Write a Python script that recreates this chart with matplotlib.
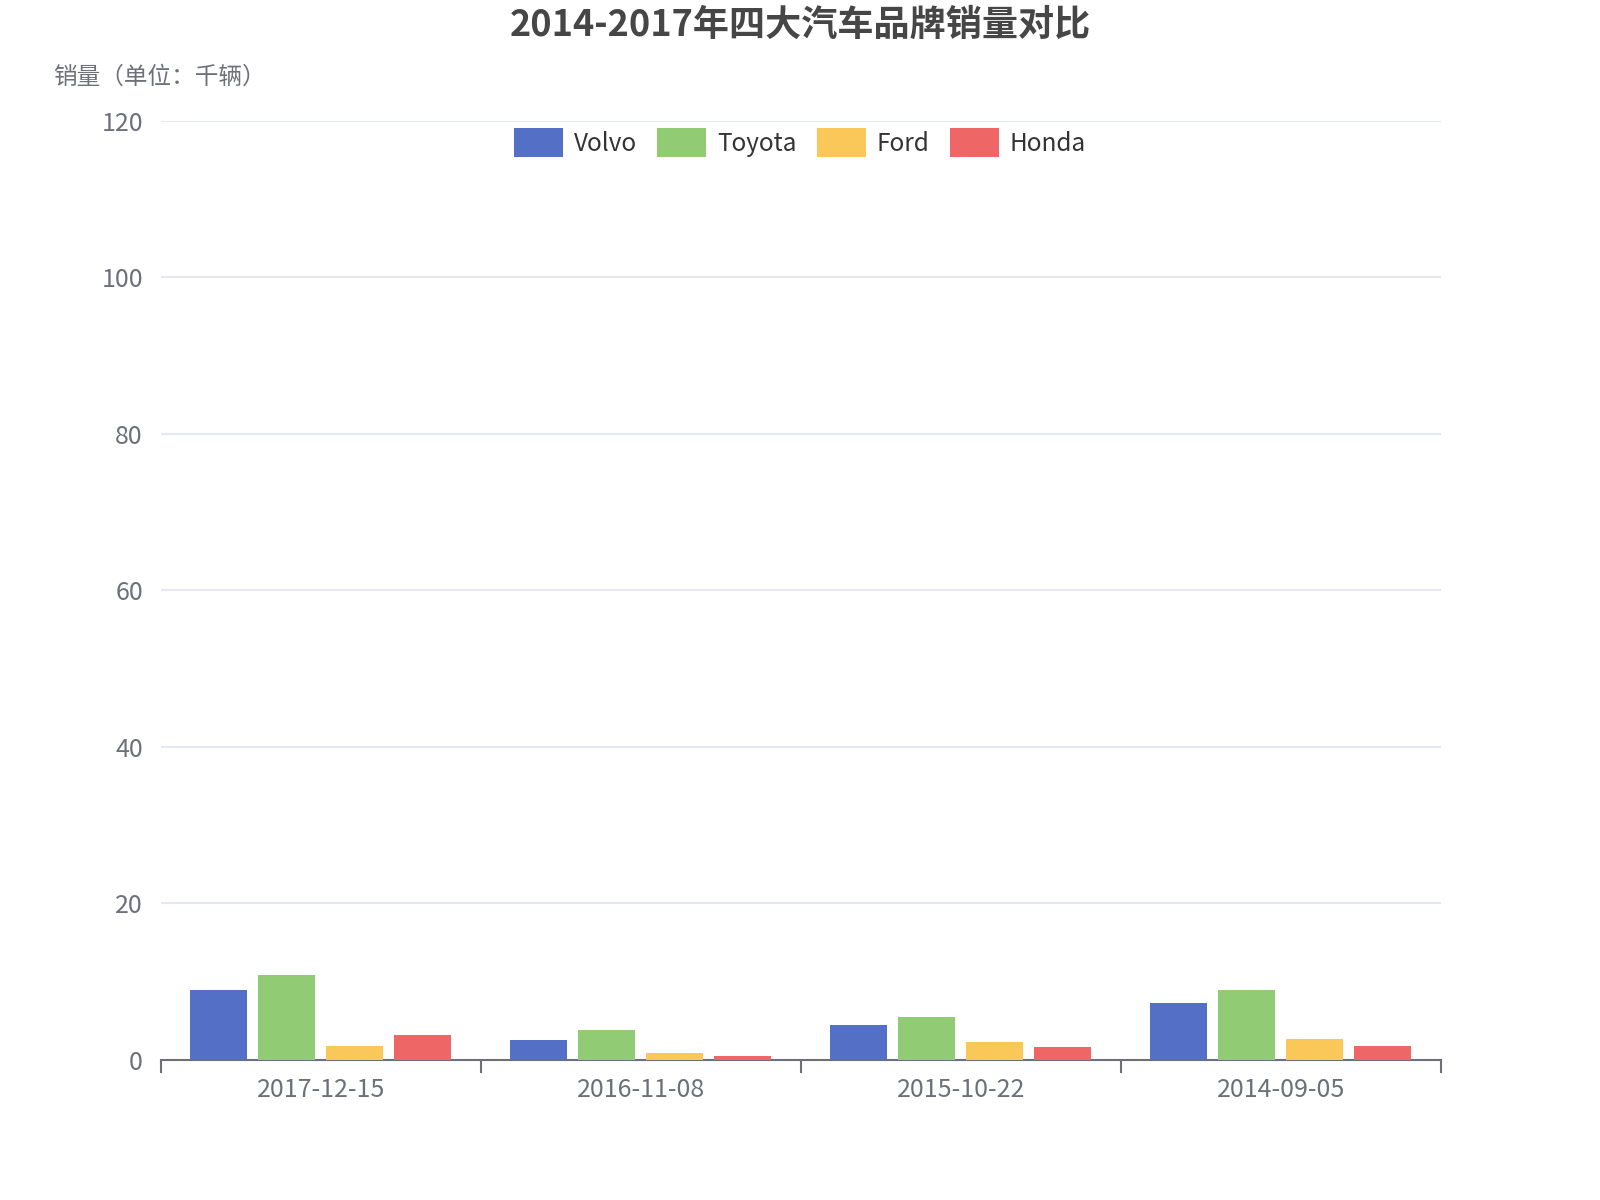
import matplotlib
matplotlib.use('Agg')
import matplotlib.pyplot as plt
from matplotlib.legend_handler import HandlerPatch
from matplotlib.patches import FancyBboxPatch
import numpy as np

plt.rcParams['font.family'] = ['Noto Sans CJK SC', 'DejaVu Sans']

# Data
dates = ['2017-12-15', '2016-11-08', '2015-10-22', '2014-09-05']
brands = ['Volvo', 'Toyota', 'Ford', 'Honda']
volvo = [9.0, 2.6, 4.5, 7.3]
toyota = [10.9, 3.8, 5.5, 9.0]
ford = [1.8, 0.9, 2.3, 2.7]
honda = [3.2, 0.45, 1.6, 1.8]
series = [volvo, toyota, ford, honda]

# Colors
COLORS = ['#5470c6', '#91cc75', '#fac858', '#ee6666']
AXIS_COLOR = '#6E7079'
GRID_COLOR = '#E0E6F1'
TITLE_COLOR = '#464646'

fig = plt.figure(figsize=(16, 12), dpi=100)
ax = fig.add_axes([0.1006, 0.1167, 0.80, 0.7825])

x = np.arange(len(dates))
bar_w = 0.178
step = 0.2125
for i, (name, vals) in enumerate(zip(brands, series)):
    ax.bar(x + (i - 1.5) * step, vals, width=bar_w, color=COLORS[i],
           label=name, zorder=3)

ax.set_xlim(-0.5, len(dates) - 0.5)
ax.set_ylim(0, 120)
ax.set_yticks(range(0, 121, 20))
ax.yaxis.grid(True, color=GRID_COLOR, linewidth=1.3, zorder=0)
ax.tick_params(axis='y', length=0, pad=13, labelsize=18, labelcolor=AXIS_COLOR)

# category boundaries as ticks, labels in the middle
ax.set_xticks(np.arange(-0.5, len(dates), 1.0))
ax.set_xticklabels([])
ax.set_xticks(x, minor=True)
ax.set_xticklabels(dates, minor=True)
ax.tick_params(axis='x', which='major', length=9, width=1.5, color=AXIS_COLOR)
ax.tick_params(axis='x', which='minor', length=0, pad=12, labelsize=18,
               labelcolor=AXIS_COLOR)

for side in ['top', 'right', 'left']:
    ax.spines[side].set_visible(False)
ax.spines['bottom'].set_color(AXIS_COLOR)
ax.spines['bottom'].set_linewidth(1.5)


def rounded_box(legend, orig_handle, xdescent, ydescent, width, height, fontsize):
    return FancyBboxPatch((-xdescent, -ydescent), width, height,
                          boxstyle='round,pad=0,rounding_size=4.5',
                          mutation_aspect=1)


ax.legend(loc='center', bbox_to_anchor=(0.5, 0.881), bbox_transform=fig.transFigure,
          ncol=4, frameon=False, fontsize=17.5, handlelength=2.0, handleheight=1.45,
          handletextpad=0.45, columnspacing=0.85, labelcolor='#333333',
          handler_map={plt.Rectangle: HandlerPatch(patch_func=rounded_box)})

fig.text(0.5, 0.979, '2014-2017年四大汽车品牌销量对比', ha='center', va='center',
         fontsize=26, fontweight='bold', color=TITLE_COLOR)
fig.text(53 / 1600, 1 - 77 / 1200, '销量（单位：千辆）', ha='left', va='center',
         fontsize=17, color=AXIS_COLOR)

fig.savefig('out.png', dpi=100, facecolor='white')
